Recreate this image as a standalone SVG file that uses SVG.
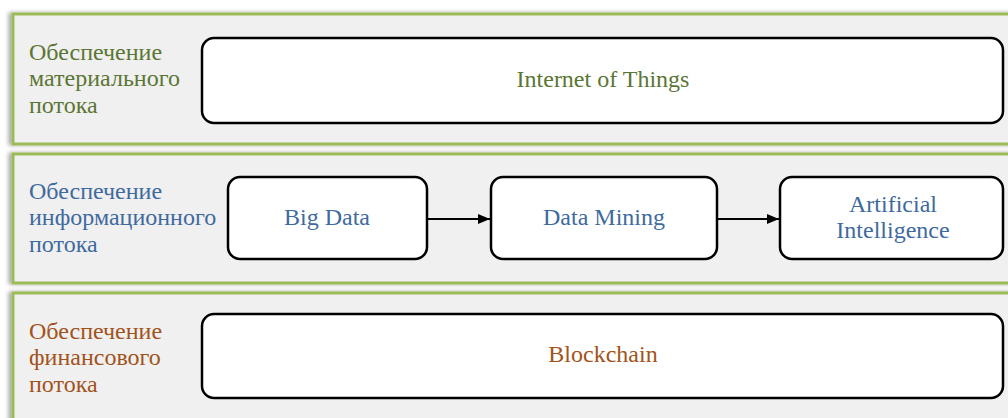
<svg xmlns="http://www.w3.org/2000/svg" width="1008" height="418" viewBox="0 0 1008 418">
  <defs>
    <filter id="shade" x="-5%" y="-20%" width="110%" height="140%">
      <feGaussianBlur in="SourceAlpha" stdDeviation="2"/>
      <feOffset dx="-3" dy="0"/>
      <feComponentTransfer><feFuncA type="linear" slope="0.35"/></feComponentTransfer>
      <feMerge><feMergeNode/><feMergeNode in="SourceGraphic"/></feMerge>
    </filter>
    <marker id="arrow" viewBox="0 0 12 12" refX="12" refY="6" markerWidth="12" markerHeight="12" markerUnits="userSpaceOnUse" orient="auto">
      <path d="M0,1 L12,6 L0,11 Z" fill="#000"/>
    </marker>
  </defs>
  <style>
    .band { fill: #f0f0f0; stroke: #9bbb59; stroke-width: 3; }
    .node { fill: #ffffff; stroke: #000000; stroke-width: 2.5; }
    text { font-family: "Liberation Serif", "Times New Roman", serif; font-size: 24px; }
    .lbl-g { fill: #5b7634; }
    .lbl-b { fill: #3f6a9e; }
    .lbl-o { fill: #a1531c; }
    .mid { text-anchor: middle; }
    .edge { stroke: #000; stroke-width: 2; fill: none; marker-end: url(#arrow); }
  </style>
  <rect width="1008" height="418" fill="#ffffff"/>

  <!-- lanes -->
  <g id="lane-material">
    <rect class="band" x="13" y="14" width="1010" height="130" filter="url(#shade)"/>
    <text class="lbl-g" x="29" y="60">Обеспечение</text>
    <text class="lbl-g" x="29" y="86">материального</text>
    <text class="lbl-g" x="29" y="113">потока</text>
  </g>
  <g id="lane-information">
    <rect class="band" x="13" y="154" width="1010" height="129" filter="url(#shade)"/>
    <text class="lbl-b" x="29" y="199">Обеспечение</text>
    <text class="lbl-b" x="29" y="225">информационного</text>
    <text class="lbl-b" x="29" y="252">потока</text>
  </g>
  <g id="lane-finance">
    <rect class="band" x="13" y="293" width="1010" height="140" filter="url(#shade)"/>
    <text class="lbl-o" x="29" y="339">Обеспечение</text>
    <text class="lbl-o" x="29" y="365">финансового</text>
    <text class="lbl-o" x="29" y="392">потока</text>
  </g>

  <!-- nodes -->
  <g id="iot">
    <rect class="node" x="202" y="38" width="801" height="85" rx="12"/>
    <text class="lbl-g mid" x="603" y="87">Internet of Things</text>
  </g>
  <g id="big-data">
    <rect class="node" x="228" y="177" width="199" height="82" rx="12"/>
    <text class="lbl-b mid" x="327" y="225">Big Data</text>
  </g>
  <g id="data-mining">
    <rect class="node" x="491" y="177" width="226" height="82" rx="12"/>
    <text class="lbl-b mid" x="604" y="225">Data Mining</text>
  </g>
  <g id="ai">
    <rect class="node" x="780" y="177" width="223" height="82" rx="12"/>
    <text class="lbl-b mid" x="893" y="212">Artificial</text>
    <text class="lbl-b mid" x="893" y="238">Intelligence</text>
  </g>
  <g id="blockchain">
    <rect class="node" x="202" y="314" width="801" height="84" rx="12"/>
    <text class="lbl-o mid" x="603" y="362">Blockchain</text>
  </g>

  <!-- connectors -->
  <g id="connectors">
    <line class="edge" x1="427" y1="219" x2="490" y2="219"/>
    <line class="edge" x1="717" y1="219" x2="779" y2="219"/>
  </g>
</svg>
